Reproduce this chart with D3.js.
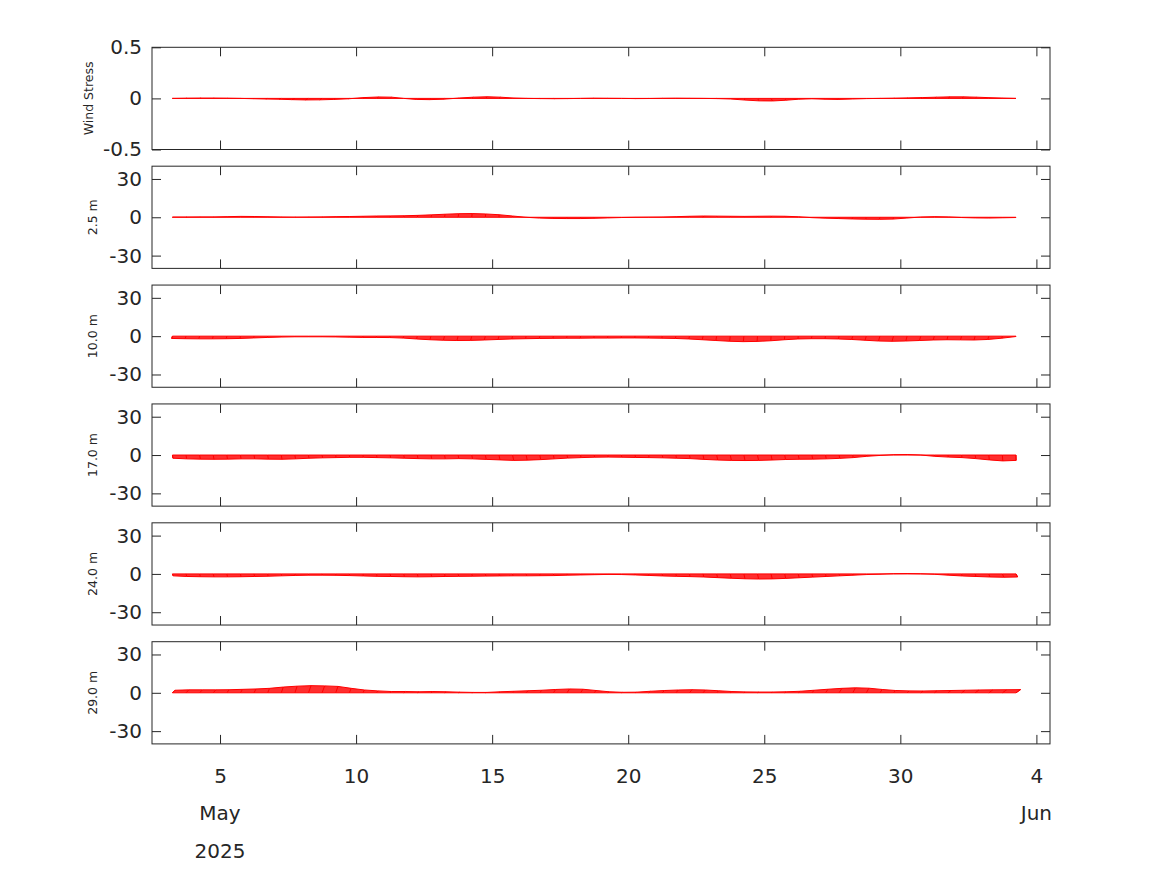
<!DOCTYPE html>
<html><head><meta charset="utf-8">
<script src="https://cdn.jsdelivr.net/npm/d3@7"></script>
<style>
body{margin:0;background:#fff}
svg{display:block}
text{font-family:"DejaVu Sans",sans-serif;fill:#262626}
</style>
</head><body>
<svg id="chart" width="1167" height="875"></svg>
<script>
// ---- time (day of May 2025, 12-hourly samples) ----
const days = [3.25,3.75,4.25,4.75,5.25,5.75,6.25,6.75,7.25,7.75,
  8.25,8.75,9.25,9.75,10.25,10.75,11.25,11.75,12.25,12.75,
  13.25,13.75,14.25,14.75,15.25,15.75,16.25,16.75,17.25,17.75,
  18.25,18.75,19.25,19.75,20.25,20.75,21.25,21.75,22.25,22.75,
  23.25,23.75,24.25,24.75,25.25,25.75,26.25,26.75,27.25,27.75,
  28.25,28.75,29.25,29.75,30.25,30.75,31.25,31.75,32.25,32.75,
  33.25,33.75,34.25];

// ---- x axis ticks ----
const xTickValues = [5,10,15,20,25,30,35];
const xTickLabels = ["5","10","15","20","25","30","4"];
const monthDays = [5,35];
const monthNames = ["May","Jun"];
const yearText = "2025";

// ---- panel labels & y ticks ----
const panelLabels = ["Wind Stress","2.5 m","10.0 m","17.0 m","24.0 m","29.0 m"];
const windDomain = [-0.5,0.5];
const windTicks = [-0.5,0,0.5];
const windTickLabels = ["-0.5","0","0.5"];
const currentDomain = [-40,40];
const currentTicks = [-30,0,30];
const currentTickLabels = ["-30","0","30"];

// ---- Wind stress components ----
const windU = [0.010,0.010,0.015,0.010,0.005,-0.005,-0.010,-0.020,-0.025,-0.030,
 -0.030,-0.025,-0.020,-0.010,0.010,0.020,0.015,0.000,-0.010,-0.015,
 -0.010,0.005,0.015,0.020,0.015,0.005,0.005,0.010,0.010,0.005,
 0.000,-0.005,-0.005,0.000,0.005,0.010,0.005,0.000,-0.005,0.000,
 0.005,0.005,0.010,0.015,0.015,0.010,0.005,0.000,-0.005,-0.010,
 -0.005,0.000,0.005,0.010,0.010,0.015,0.020,0.020,0.020,0.015,
 0.010,0.005,0.000];
const windV = [0.000,0.002,0.003,0.003,0.002,0.000,-0.003,-0.006,-0.008,-0.012,
 -0.015,-0.014,-0.010,-0.004,0.008,0.014,0.012,0.000,-0.010,-0.012,
 -0.008,0.003,0.012,0.016,0.012,0.004,0.000,-0.002,-0.003,-0.002,
 0.000,0.002,0.001,0.000,-0.002,-0.001,0.001,0.002,0.001,0.000,
 -0.002,-0.006,-0.016,-0.024,-0.025,-0.018,-0.008,-0.004,-0.008,-0.010,
 -0.006,-0.002,0.000,0.002,0.005,0.008,0.012,0.015,0.015,0.012,
 0.007,0.003,0.000];

// ---- Currents 2.5 m ----
const u2_5 = [0.5,0.6,0.6,0.5,0.4,0.3,0.2,0.3,0.4,0.5,
 0.6,0.5,0.4,0.3,0.2,0.2,0.3,0.4,0.5,0.6,
 0.5,0.4,0.3,0.2,0.1,0.0,-0.2,-0.3,-0.4,-0.4,
 -0.3,-0.2,-0.1,0.0,0.1,0.2,0.3,0.4,0.5,0.5,
 0.4,0.3,0.2,0.2,0.3,0.4,0.3,0.2,0.0,-0.2,
 -0.4,-0.5,-0.5,-0.4,-0.2,0.0,0.2,0.3,0.2,0.1,
 0.0,-0.1,-0.1];
const v2_5 = [0.2,0.2,0.3,0.3,0.5,0.7,0.6,0.4,0.2,0.1,
 0.2,0.3,0.5,0.6,0.8,1.0,1.1,1.2,1.5,1.9,
 2.4,2.8,2.9,2.6,2.0,1.0,0.0,-0.6,-0.9,-1.0,
 -1.0,-0.8,-0.5,-0.2,0.0,0.1,0.2,0.5,0.8,1.0,
 0.9,0.8,0.7,0.8,0.9,0.8,0.4,-0.3,-0.7,-1.0,
 -1.3,-1.5,-1.6,-1.4,-0.6,0.2,0.5,0.3,-0.2,-0.5,
 -0.6,-0.4,-0.2];

// ---- Currents 10.0 m ----
const u10 = [-0.6,-0.7,-0.7,-0.6,-0.5,-0.4,-0.3,-0.2,-0.1,0.0,
 0.0,0.1,0.1,0.0,-0.1,-0.2,-0.3,-0.4,-0.6,-0.8,
 -0.9,-1.0,-0.9,-0.8,-0.7,-0.6,-0.5,-0.4,-0.4,-0.3,
 -0.3,-0.3,-0.2,-0.2,-0.2,-0.3,-0.3,-0.4,-0.5,-0.6,
 -0.6,-0.5,-0.4,-0.3,-0.2,-0.2,-0.3,-0.4,-0.5,-0.6,
 -0.8,-1.0,-1.1,-1.2,-1.1,-1.0,-0.9,-0.8,-0.8,-0.9,
 -0.8,-0.5,-0.1];
const v10 = [-1.8,-2.0,-2.1,-2.1,-2.0,-1.8,-1.4,-1.0,-0.7,-0.5,
 -0.5,-0.5,-0.6,-0.8,-1.0,-1.0,-1.1,-1.5,-2.2,-2.8,
 -3.2,-3.4,-3.3,-3.0,-2.6,-2.2,-2.0,-1.8,-1.7,-1.6,
 -1.6,-1.5,-1.5,-1.4,-1.4,-1.5,-1.6,-1.8,-2.2,-2.8,
 -3.4,-4.0,-4.3,-4.1,-3.6,-2.8,-2.2,-2.0,-2.0,-2.2,
 -2.6,-3.2,-3.8,-4.0,-3.8,-3.4,-3.0,-2.8,-2.9,-3.0,
 -2.6,-1.6,-0.3];

// ---- Currents 17.0 m ----
const u17 = [0.4,0.5,0.6,0.6,0.5,0.5,0.5,0.6,0.6,0.5,
 0.4,0.4,0.3,0.3,0.3,0.4,0.4,0.5,0.5,0.6,
 0.6,0.5,0.6,0.7,0.8,0.9,0.8,0.7,0.6,0.5,
 0.4,0.3,0.3,0.3,0.4,0.4,0.5,0.5,0.6,0.7,
 0.8,0.9,0.9,0.9,0.8,0.7,0.7,0.6,0.6,0.5,
 0.4,0.3,0.2,0.1,0.1,0.1,0.2,0.3,0.4,0.5,
 0.4,0.3,0.1];
const v17 = [-2.5,-3.0,-3.2,-3.3,-3.2,-3.0,-3.0,-3.2,-3.3,-3.0,
 -2.5,-2.2,-2.0,-1.8,-1.8,-2.0,-2.2,-2.5,-2.8,-3.0,
 -3.0,-2.8,-3.0,-3.4,-3.8,-4.2,-4.0,-3.6,-3.0,-2.4,
 -2.0,-1.7,-1.6,-1.7,-1.9,-2.0,-2.2,-2.5,-2.8,-3.4,
 -3.9,-4.2,-4.3,-4.2,-3.9,-3.5,-3.3,-3.2,-3.0,-2.6,
 -2.0,-1.0,-0.3,0.3,0.4,0.0,-1.0,-1.6,-2.0,-2.8,
 -3.8,-4.6,-4.2];

// ---- Currents 24.0 m ----
const u24 = [0.5,0.6,0.6,0.6,0.5,0.5,0.4,0.4,0.3,0.3,
 0.3,0.3,0.3,0.4,0.4,0.5,0.5,0.6,0.6,0.6,
 0.5,0.5,0.5,0.4,0.4,0.4,0.4,0.3,0.3,0.3,
 0.2,0.2,0.2,0.2,0.3,0.4,0.4,0.5,0.5,0.6,
 0.7,0.8,0.9,0.9,0.9,0.8,0.7,0.6,0.5,0.4,
 0.3,0.2,0.1,0.0,0.0,0.0,0.1,0.3,0.5,0.7,
 0.9,1.1,1.3];
const v24 = [-1.5,-2.0,-2.2,-2.3,-2.3,-2.2,-2.0,-1.8,-1.5,-1.2,
 -1.0,-1.0,-1.1,-1.3,-1.6,-1.9,-2.0,-2.2,-2.3,-2.2,
 -2.0,-1.9,-1.8,-1.7,-1.6,-1.5,-1.5,-1.4,-1.3,-1.0,
 -0.8,-0.6,-0.4,-0.5,-0.8,-1.2,-1.6,-1.9,-2.1,-2.4,
 -2.9,-3.4,-3.8,-4.0,-3.9,-3.5,-3.0,-2.5,-2.0,-1.5,
 -1.0,-0.5,-0.2,0.2,0.3,0.1,-0.3,-1.0,-1.6,-2.0,
 -2.4,-2.6,-2.4];

// ---- Currents 29.0 m ----
const u29 = [2.0,2.2,2.2,2.0,1.8,1.6,1.5,1.5,1.6,1.8,
 2.0,2.0,1.8,1.5,1.2,1.0,1.0,1.2,1.3,1.4,
 1.5,1.4,1.2,1.0,1.0,1.2,1.4,1.6,1.8,2.0,
 1.8,1.4,1.0,0.8,1.0,1.4,1.8,2.0,2.0,1.8,
 1.5,1.2,1.0,1.0,1.0,1.2,1.5,1.8,2.0,2.2,
 2.2,2.0,1.8,1.6,1.6,1.8,2.0,2.4,2.8,3.0,
 3.2,3.4,3.6];
const v29 = [2.0,2.3,2.3,2.3,2.4,2.7,3.0,3.5,4.5,5.2,
 5.6,5.4,5.0,3.5,2.2,1.5,1.0,1.0,0.8,1.0,
 0.8,0.5,0.3,0.3,0.8,1.2,1.6,2.0,2.6,3.0,
 2.8,1.8,0.8,0.4,0.5,1.2,1.8,2.2,2.4,2.2,
 1.6,1.0,0.7,0.6,0.6,0.8,1.2,2.0,2.8,3.5,
 3.9,3.6,2.6,1.8,1.5,1.4,1.6,1.8,2.0,2.2,
 2.3,2.4,2.5];

// ---- build panels ----
const panels = [
  {label: panelLabels[0], u: windU, v: windV, domain: windDomain, ticks: windTicks, tickLabels: windTickLabels, labelX: 93},
  {label: panelLabels[1], u: u2_5, v: v2_5, domain: currentDomain, ticks: currentTicks, tickLabels: currentTickLabels, labelX: 97},
  {label: panelLabels[2], u: u10, v: v10, domain: currentDomain, ticks: currentTicks, tickLabels: currentTickLabels, labelX: 97},
  {label: panelLabels[3], u: u17, v: v17, domain: currentDomain, ticks: currentTicks, tickLabels: currentTickLabels, labelX: 97},
  {label: panelLabels[4], u: u24, v: v24, domain: currentDomain, ticks: currentTicks, tickLabels: currentTickLabels, labelX: 97},
  {label: panelLabels[5], u: u29, v: v29, domain: currentDomain, ticks: currentTicks, tickLabels: currentTickLabels, labelX: 97}
];

const svg = d3.select("#chart");
const left = 152, right = 1050, top0 = 47.3, step = 118.88, ph = 102.2;
const axisColor = "#262626";
const x = d3.scaleLinear().domain([2.5, 35.5]).range([left, right]);

function styleAxis(g, showText) {
  g.select(".domain").remove();
  g.selectAll(".tick line").attr("stroke", axisColor).attr("stroke-width", 1);
  g.selectAll(".tick text").attr("font-size", 20).attr("font-family", "DejaVu Sans, sans-serif").attr("fill", axisColor);
  if (!showText) g.selectAll(".tick text").remove();
}

panels.forEach((p, pi) => {
  const top = top0 + pi * step;
  const bottom = top + ph;
  const y = d3.scaleLinear().domain(p.domain).range([bottom, top]);
  const k = ph / (p.domain[1] - p.domain[0]); // px per unit (isotropic sticks)
  const g = svg.append("g");

  const pts = days.map((d, i) => ({
    bx: x(d), by: y(0),
    tx: x(d) + p.u[i] * k, ty: y(p.v[i])
  }));

  // swept area of sticks
  const poly = pts.map(q => [q.tx, q.ty]).concat(pts.slice().reverse().map(q => [q.bx, q.by]));
  g.append("path")
    .attr("d", d3.line()(poly) + "Z")
    .attr("fill", "#ff0000").attr("fill-opacity", 0.82)
    .attr("stroke", "#ff0000").attr("stroke-width", 1).attr("stroke-linejoin", "round");

  // sticks
  g.selectAll("line.stick").data(pts).join("line")
    .attr("class", "stick")
    .attr("x1", q => q.bx).attr("y1", q => q.by)
    .attr("x2", q => q.tx).attr("y2", q => q.ty)
    .attr("stroke", "#ff0000").attr("stroke-width", 1);

  // axes (inward ticks)
  const isLast = pi === panels.length - 1;
  const gb = g.append("g").attr("transform", `translate(0,${bottom})`)
    .call(d3.axisBottom(x).tickValues(xTickValues).tickSize(-9).tickPadding(24.5)
      .tickFormat((d, i) => xTickLabels[i]));
  styleAxis(gb, isLast);
  const gt = g.append("g").attr("transform", `translate(0,${top})`)
    .call(d3.axisTop(x).tickValues(xTickValues).tickSize(-9));
  styleAxis(gt, false);
  const gl = g.append("g").attr("transform", `translate(${left},0)`)
    .call(d3.axisLeft(y).tickValues(p.ticks).tickSize(-9).tickPadding(10)
      .tickFormat((d, i) => p.tickLabels[i]));
  styleAxis(gl, true);
  const gr = g.append("g").attr("transform", `translate(${right},0)`)
    .call(d3.axisRight(y).tickValues(p.ticks).tickSize(-9));
  styleAxis(gr, false);

  // frame
  g.append("rect").attr("x", left).attr("y", top).attr("width", right - left).attr("height", ph)
    .attr("fill", "none").attr("stroke", axisColor).attr("stroke-width", 1);

  // y label
  g.append("text")
    .attr("transform", `translate(${p.labelX},${(top + bottom) / 2}) rotate(-90)`)
    .attr("text-anchor", "middle").attr("font-size", 12.5)
    .text(p.label);

  if (isLast) {
    g.selectAll("text.month").data(monthDays).join("text")
      .attr("class", "month")
      .attr("x", d => x(d)).attr("y", 820)
      .attr("text-anchor", "middle").attr("font-size", 20)
      .text((d, i) => monthNames[i]);
    g.append("text").attr("x", x(monthDays[0])).attr("y", 858)
      .attr("text-anchor", "middle").attr("font-size", 20).text(yearText);
  }
});
</script>
</body></html>
